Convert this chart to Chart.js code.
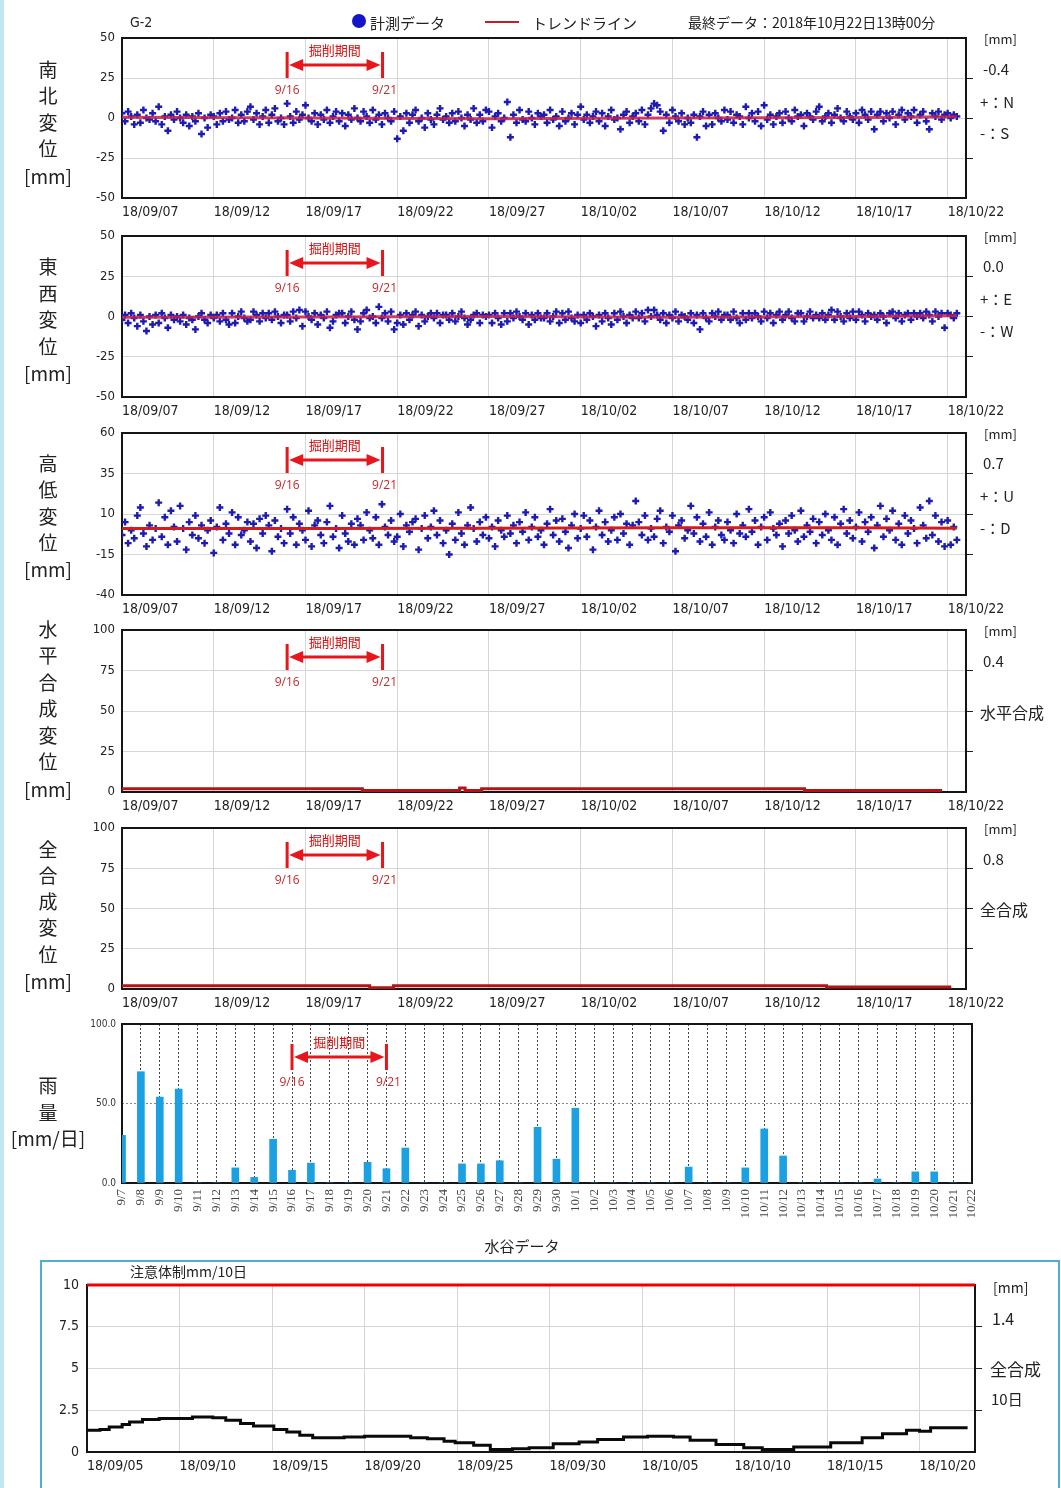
<!DOCTYPE html>
<html>
<head>
<meta charset="utf-8">
<script src="https://cdn.jsdelivr.net/npm/chart.js@4.4.0/dist/chart.umd.min.js"></script>
<style>
  body { margin: 0; width: 1061px; height: 1488px; position: relative; overflow: hidden; background: #fff;
         font-family: "Noto Sans CJK JP", sans-serif; color: #222; }
  .t { position: absolute; white-space: nowrap; line-height: 1; transform: translateY(-50%); }
  .tc { transform: translate(-50%, -50%); }
</style>
</head>
<body>
<div style="position:absolute;left:0;top:0;width:4px;height:1488px;background:#c4e6f1"></div>
<div style="position:absolute;left:40px;top:1260px;width:1016px;height:240px;border:2px solid #4eaed3"></div>

<script>
// ---- data ----
const dispTicks = ['18/09/07', '18/09/12', '18/09/17', '18/09/22', '18/09/27', '18/10/02', '18/10/07', '18/10/12', '18/10/17', '18/10/22'];
const sumTicks = ['18/09/05', '18/09/10', '18/09/15', '18/09/20', '18/09/25', '18/09/30', '18/10/05', '18/10/10', '18/10/15', '18/10/20'];

// 南北変位 [mm], every 4 hours from 9/7 0:00
const nsVals = [
  3, -2, 4, 1, -4, 2,   -3, 5, 0, -1, 3, -2,   7, -4, 1, -8, 2, -1,   4, 0, -3, 2, -5, 1,
  -2, 3, -10, 0, -6, 2,   1, -4, 3, -2, 4, -1,   0, 5, -3, 2, -2, 4,   7, -1, 3, -4, 1, 5,
  -3, 2, 6, -2, 0, -4,   9, 1, -3, 4, -1, 2,   8, 0, -2, 3, -4, 2,   -1, 5, -3, 1, 4, -2,
  3, -5, 2, -1, 6, 0,   -2, 4, 1, -3, 5, -1,   2, -4, 3, 0, -2, 4,   -13, 1, -8, 3, -3, 2,
  5, -2, 0, -6, 3, -1,   -4, 2, 6, -1, 1, -3,   3, -2, 4, 0, -5, 2,   -1, 6, -3, 2, -2, 5,
  4, -6, 1, 3, -2, 0,   10, -12, 2, -3, 5, -1,   -2, 4, 0, -4, 3, 1,   2, -3, 5, -1, 1, -5,
  4, -2, 0, 3, -4, 2,   7, -1, 2, -3, 1, 4,   -2, 3, -5, 1, 5, -1,   0, -7, 2, 4, -3, 1,
  3, -2, 5, -4, 2, 6,   9, 8, 4, -8, 2, -3,   5, 1, -2, 3, -4, 0,   -3, 2, -12, 1, 4, -5,
  2, -4, 3, 0, -2, 5,   -1, 4, -3, 2, 1, -4,   7, 0, 3, -2, 4, -5,   8, -1, 2, -4, 1, 3,
  -3, 4, 0, -2, 5, 1,   2, -5, 3, 1, -1, 4,   7, -2, 1, 3, -3, 2,   6, 0, -2, 4, 1, -1,
  3, -3, 5, 2, -1, 4,   -7, 2, 4, -2, 3, 0,   4, -4, 2, 5, -1, 3,   1, 5, -3, 2, 4, -2,
  -7, 3, 1, 4, -1, 2,   3, 0, 2, 1
];
const nsTrendDays = [0, 10, 20, 30, 40, 45.5];
const nsTrend = [0.5, 0, -0.5, 0, 0.3, 0.8];

// 東西変位 [mm]
const ewVals = [
  -2, 1, -4, 2, -1, -6,   1, -3, -9, 0, -5, 1,   -4, 2, -1, -7, 1, -2,   0, -3, 1, -5, -1, -2,
  -8, 0, 2, -2, -4, 1,   -1, 1, -3, 2, -2, -5,   2, -4, 0, 3, -1, -3,   -2, 3, 1, -3, 2, -1,
  2, -2, 3, 0, -4, 1,   1, -3, 3, -1, 4, -6,   3, 0, -2, 2, -5, 1,   -1, 3, -7, -3, 1, 2,
  2, -4, 0, 3, -2, -8,   -3, 2, 4, -1, 0, -4,   6, -1, 2, -3, 3, -8,   -4, 1, -5, 2, -2, 1,
  3, -6, 1, -3, 0, 2,   -1, 2, -4, 1, 1, -2,   2, -3, 0, 3, -1, -5,   -2, 1, 2, -4, 1, 0,
  1, -4, 2, -1, -5, 2,   -3, 2, -1, 3, 0, -2,   2, -5, 1, -2, 2, -1,   -1, 2, -3, 0, 3, -4,
  2, -2, 3, -1, -3, 1,   -4, 1, -2, 2, 0, -6,   1, -3, 2, -1, -5, 2,   -2, 3, 0, -4, 1, -1,
  3, -1, 2, -3, 4, 0,   4, 1, -2, 2, -4, 1,   -1, 3, -3, 1, 0, -2,   2, -4, 1, -8, 2, -1,
  -3, 2, 0, 3, -2, 1,   1, -2, 3, -1, -4, 2,   -2, 2, -1, 2, 0, -3,   3, -1, 2, -4, 1, 3,
  -2, 1, 3, -1, -3, 2,   2, -3, 0, 3, -1, 1,   -1, 2, -2, 1, 4, -2,   3, 0, -3, 2, -1, 3,
  -2, 3, 1, -3, 2, 0,   1, -2, 2, 0, -4, 2,   3, -1, 2, -3, 1, 2,   -2, 2, 0, 2, -1, 3,
  1, -3, 3, 0, 2, -7,   2, 1, -1, 2
];
const ewTrendDays = [0, 10, 20, 30, 40, 45.5];
const ewTrend = [-0.5, -0.3, 0, -0.5, 0, 0.5];

// 高低変位 [mm]
const udVals = [
  -3, 5, -8, 0, -5, 9,   14, -2, -10, 3, -6, 1,   17, -4, 8, -9, 12, 2,   -7, 15, 1, -12, 5, -3,
  9, -5, 3, -8, 0, 6,   -14, 2, 14, -6, 4, -2,   11, -9, 8, -3, 0, 5,   -7, 4, -11, 7, -2, 9,
  3, -13, 6, -4, 1, -8,   13, -2, 8, -9, 4, 0,   -6, 12, -10, 3, 6, -3,   -8, 5, 15, -4, 1, -11,
  9, -2, -7, 4, -9, 7,   3, -6, 11, 0, -5, 8,   -9, 16, 2, -3, 6, -7,   -4, 10, -10, 3, -1, 5,
  7, -12, 1, 9, -5, 2,   12, -3, 6, -8, 0, -15,   4, -6, 11, -2, -9, 3,   14, 1, -7, 5, -3, 8,
  -5, 2, -10, 6, 0, -4,   9, -2, 3, -8, 5, -1,   11, -6, 2, 8, -4, 0,   -9, 4, 13, -3, 6, -7,
  7, -1, -11, 3, 10, -5,   1, 9, -4, 6, -12, 2,   12, -3, 5, -7, 0, 8,   -6, 10, -2, 4, -9, 3,
  18, 5, -3, 9, -6, 1,   -4, 7, 12, -8, 2, -1,   9, -13, 3, 6, -5, 0,   15, -2, 8, -7, 4, -4,
  11, -9, 2, 6, -3, -6,   5, 0, -8, 10, -2, 3,   -4, 13, -1, 6, -9, 2,   8, -6, 11, 1, -3, 4,
  -10, 6, -2, 9, 0, -7,   12, -4, 3, -1, 7, -8,   5, -3, 10, 0, -6, 8,   -9, 4, 13, -2, 6, -5,
  2, 11, -7, 5, -1, 8,   -11, 3, 15, -4, 7, 0,   12, -6, 4, -9, 9, -2,   6, 1, -8, 14, 3, -5,
  18, -3, 9, -7, 5, -10,   6, -9, 2, -6
];
const udTrendDays = [0, 10, 20, 30, 40, 45.5];
const udTrend = [1, 1, 1.2, 1.5, 1.5, 1.2];

// 水平合成変位 / 全合成変位 [mm] (step changes)
const hzDays = [0, 13.1, 18.4, 18.7, 19.6, 37.2, 44.7];
const hzVals = [2.0, 1.0, 2.5, 1.0, 2.0, 1.0, 1.0];
const allDays = [0, 13.5, 14.8, 38.4, 45.2];
const allVals = [2.0, 0.8, 2.0, 1.2, 1.2];

// 雨量 [mm/日]
const rainDays = ['9/7', '9/8', '9/9', '9/10', '9/11', '9/12', '9/13', '9/14', '9/15', '9/16', '9/17', '9/18',
  '9/19', '9/20', '9/21', '9/22', '9/23', '9/24', '9/25', '9/26', '9/27', '9/28', '9/29', '9/30',
  '10/1', '10/2', '10/3', '10/4', '10/5', '10/6', '10/7', '10/8', '10/9', '10/10', '10/11', '10/12',
  '10/13', '10/14', '10/15', '10/16', '10/17', '10/18', '10/19', '10/20', '10/21', '10/22'];
const rainVals = [30, 70, 54, 59, 0, 0, 9.5, 3.5, 27.5, 8, 12.5, 0, 0, 13, 9, 22, 0, 0, 12, 12, 14, 0, 35, 15,
  47, 0, 0, 0, 0, 0, 10, 0, 0, 9.5, 34, 17, 0, 0, 0, 0, 2.5, 0, 7, 7, 0, 0];

// 全合成 10日 [mm], days from 9/5
const sumDays = [0, 0.7, 1.2, 1.9, 2.3, 3.0, 3.9, 5.0, 5.7, 6.8, 7.5, 8.3, 9.0, 10.1, 10.8, 11.5, 12.2, 13.3, 13.9,
  15.0, 16.7, 17.5, 18.4, 19.3, 19.9, 20.9, 21.8, 23.0, 23.9, 25.2, 26.6, 27.6, 29.0, 30.3, 31.7, 32.6, 34.0,
  35.5, 36.5, 38.2, 40.2, 41.9, 43.0, 44.3, 45.0, 45.6, 47.6];
const sumVals = [1.3, 1.35, 1.5, 1.65, 1.8, 1.95, 2.0, 2.0, 2.1, 2.05, 1.9, 1.7, 1.55, 1.35, 1.2, 1.0, 0.85, 0.85, 0.9,
  0.95, 0.95, 0.85, 0.8, 0.65, 0.55, 0.4, 0.15, 0.2, 0.25, 0.5, 0.6, 0.75, 0.9, 0.95, 0.9, 0.7, 0.45,
  0.25, 0.15, 0.3, 0.55, 0.85, 1.1, 1.3, 1.25, 1.45, 1.45];
const cautionDays = [0, 48];
const cautionVals = [10, 10];

// ---- drawing ----
const CF = '"DejaVu Sans Condensed", "DejaVu Sans", sans-serif';
const GRID = '#d6d6d6';

const frame = {
  id: 'frame',
  beforeDatasetsDraw(chart) {
    const a = chart.chartArea, ctx = chart.ctx;
    ctx.save();
    ctx.strokeStyle = '#151515';
    ctx.lineWidth = 2;
    ctx.strokeRect(a.left, a.top, a.right - a.left, a.bottom - a.top);
    ctx.restore();
  }
};

// 掘削期間 arrow
const kussaku = {
  id: 'kussaku',
  afterDatasetsDraw(chart, args, opt) {
    if (!opt || opt.from === undefined) return;
    const ctx = chart.ctx, x = chart.scales.x;
    const x1 = x.getPixelForValue(opt.from), x2 = x.getPixelForValue(opt.to);
    const top = chart.chartArea.top + opt.dy;
    const ay = top + 27;
    ctx.save();
    ctx.strokeStyle = ctx.fillStyle = '#e6161c';
    ctx.lineWidth = 3;
    ctx.beginPath();
    ctx.moveTo(x1, top + 14); ctx.lineTo(x1, top + 40);
    ctx.moveTo(x2, top + 14); ctx.lineTo(x2, top + 40);
    ctx.moveTo(x1 + 12, ay); ctx.lineTo(x2 - 12, ay);
    ctx.stroke();
    ctx.beginPath();
    ctx.moveTo(x1 + 2, ay); ctx.lineTo(x1 + 16, ay - 6); ctx.lineTo(x1 + 16, ay + 6); ctx.closePath();
    ctx.moveTo(x2 - 2, ay); ctx.lineTo(x2 - 16, ay - 6); ctx.lineTo(x2 - 16, ay + 6); ctx.closePath();
    ctx.fill();
    ctx.textAlign = 'center';
    ctx.textBaseline = 'middle';
    ctx.fillStyle = '#cf1010';
    ctx.font = '13px "Noto Sans CJK JP"';
    ctx.fillText('掘削期間', (x1 + x2) / 2, top + 12);
    ctx.fillStyle = '#c4282c';
    ctx.font = '12px "Open Sans"';
    ctx.fillText('9/16', x1, top + 53);
    ctx.fillText('9/21', x2 + 2, top + 53);
    ctx.restore();
  }
};

function addCanvas(top, height) {
  const c = document.createElement('canvas');
  c.width = 1061;
  c.height = height;
  c.style.cssText = 'position:absolute;left:0;top:' + top + 'px';
  document.body.appendChild(c);
  return c;
}

function toXY(days, vals) {
  return vals.map((v, i) => ({x: days[i], y: v}));
}

function every4h(vals) {
  return vals.map((v, i) => ({x: i / 6, y: v}));
}

function dispChart(top, bottom, yMin, yMax, yStep, datasets, annot) {
  const cv = addCanvas(top - 10, bottom - top + 10 + 26);
  return new Chart(cv, {
    type: 'scatter',
    data: {datasets: datasets},
    options: {
      responsive: false,
      animation: false,
      devicePixelRatio: 1,
      layout: {padding: {top: 10, left: 0, right: 0, bottom: 0}},
      plugins: {legend: {display: false}, tooltip: {enabled: false}, kussaku: annot},
      scales: {
        x: {
          type: 'linear', min: 0, max: 46,
          ticks: {stepSize: 5, includeBounds: false, align: 'start', padding: 6, maxRotation: 0,
                  font: {family: CF, size: 14}, color: '#222',
                  callback: v => dispTicks[Math.round(v / 5)]},
          grid: {color: GRID, drawTicks: false},
          border: {display: false},
          afterFit: s => { s.height = 26; s.paddingLeft = 0; s.paddingRight = 0; }
        },
        y: {
          min: yMin, max: yMax,
          ticks: {stepSize: yStep, padding: 7, font: {family: CF, size: 13}, color: '#222'},
          grid: {color: GRID, drawTicks: false},
          border: {display: false},
          afterFit: s => { s.width = 122; s.paddingTop = 0; s.paddingBottom = 0; }
        },
        y2: {
          position: 'right', min: yMin, max: yMax,
          ticks: {display: false, stepSize: yStep},
          grid: {drawOnChartArea: false, tickLength: 7, color: '#222'},
          border: {display: false},
          afterBuildTicks: s => { s.ticks = s.ticks.filter(t => t.value > yMin && t.value < yMax); },
          afterFit: s => { s.width = 95; s.paddingTop = 0; s.paddingBottom = 0; }
        }
      }
    },
    plugins: [frame, kussaku]
  });
}

function trendSet(days, vals, color) {
  return {data: toXY(days, vals), showLine: true, borderColor: color, borderWidth: 3, pointRadius: 0};
}
function pointSet(vals) {
  return {data: every4h(vals), pointStyle: 'cross', pointRadius: 3.5, borderWidth: 2.4,
          borderColor: '#1c1cb0', backgroundColor: '#1c1cb0'};
}
function stepSet(days, vals) {
  return {data: toXY(days, vals), showLine: true, stepped: true, borderColor: '#b3141a',
          borderWidth: 3, pointRadius: 0};
}

const exc = {from: 9, to: 14.2, dy: 0};

dispChart(38, 198, -50, 50, 25, [trendSet(nsTrendDays, nsTrend, 'rgba(200,30,70,0.85)'), pointSet(nsVals)], exc);
dispChart(236, 397, -50, 50, 25, [trendSet(ewTrendDays, ewTrend, 'rgba(200,30,70,0.85)'), pointSet(ewVals)], exc);
dispChart(433, 595, -40, 60, 25, [trendSet(udTrendDays, udTrend, '#d41c1c'), pointSet(udVals)], exc);
dispChart(630, 792, 0, 100, 25, [stepSet(hzDays, hzVals)], exc);
dispChart(828, 989, 0, 100, 25, [stepSet(allDays, allVals)], exc);

// rain
new Chart(addCanvas(1014, 10 + 159 + 62), {
  type: 'bar',
  data: {labels: rainDays, datasets: [{data: rainVals, backgroundColor: '#1ba0e2', barThickness: 7}]},
  options: {
    responsive: false,
    animation: false,
    devicePixelRatio: 1,
    layout: {padding: {top: 10, left: 0, right: 89, bottom: 0}},
    plugins: {legend: {display: false}, tooltip: {enabled: false}, kussaku: {from: 9, to: 14, dy: 6}},
    scales: {
      x: {
        offset: false,
        ticks: {autoSkip: false, minRotation: 90, maxRotation: 90, padding: 6,
                font: {family: '"Liberation Serif", serif', size: 13}, color: '#444'},
        grid: {color: '#444', drawTicks: false, offset: false},
        border: {display: false, dash: [2, 2]},
        afterFit: s => { s.height = 62; s.paddingLeft = 0; s.paddingRight = 0; }
      },
      y: {
        min: 0, max: 100,
        ticks: {stepSize: 50, padding: 6, font: {family: CF, size: 10}, color: '#333',
                callback: v => v.toFixed(1)},
        grid: {color: '#888', drawTicks: false},
        border: {display: false, dash: [2, 2]},
        afterFit: s => { s.width = 122; s.paddingTop = 0; s.paddingBottom = 0; }
      }
    }
  },
  plugins: [frame, kussaku]
});

// 10日 全合成
new Chart(addCanvas(1275, 10 + 167 + 26), {
  type: 'scatter',
  data: {datasets: [
    {data: toXY(cautionDays, cautionVals), showLine: true, borderColor: '#f00000', borderWidth: 3,
     pointRadius: 0, clip: false},
    {data: toXY(sumDays, sumVals), showLine: true, stepped: true, borderColor: '#0a0a0a', borderWidth: 3,
     pointRadius: 0}
  ]},
  options: {
    responsive: false,
    animation: false,
    devicePixelRatio: 1,
    layout: {padding: {top: 10, left: 0, right: 0, bottom: 0}},
    plugins: {legend: {display: false}, tooltip: {enabled: false}},
    scales: {
      x: {
        type: 'linear', min: 0, max: 48,
        ticks: {stepSize: 5, includeBounds: false, align: 'start', padding: 6, maxRotation: 0,
                font: {family: CF, size: 14}, color: '#222',
                callback: v => sumTicks[Math.round(v / 5)]},
        grid: {color: GRID, drawTicks: false},
        border: {display: false},
        afterFit: s => { s.height = 26; s.paddingLeft = 0; s.paddingRight = 0; }
      },
      y: {
        min: 0, max: 10,
        ticks: {stepSize: 2.5, padding: 8, font: {family: CF, size: 14}, color: '#222'},
        grid: {color: GRID, drawTicks: false},
        border: {display: false},
        afterFit: s => { s.width = 87; s.paddingTop = 0; s.paddingBottom = 0; }
      },
      y2: {
        position: 'right', min: 0, max: 10,
        ticks: {display: false, stepSize: 2.5},
        grid: {drawOnChartArea: false, tickLength: 7, color: '#222'},
        border: {display: false},
        afterBuildTicks: s => { s.ticks = s.ticks.filter(t => t.value > 0 && t.value < 10); },
        afterFit: s => { s.width = 86; s.paddingTop = 0; s.paddingBottom = 0; }
      }
    }
  },
  plugins: [frame]
});

// ---- text ----
function txt(s, x, y, size, opts) {
  const d = document.createElement('div');
  d.className = 't' + (opts && opts.center ? ' tc' : '');
  d.textContent = s;
  d.style.left = x + 'px';
  d.style.top = y + 'px';
  d.style.fontSize = size + 'px';
  if (opts && opts.font) d.style.fontFamily = opts.font;
  if (opts && opts.color) d.style.color = opts.color;
  document.body.appendChild(d);
}

// header
txt('G-2', 130, 22, 14, {font: CF});
const dot = document.createElement('div');
dot.style.cssText = 'position:absolute;left:352px;top:14px;width:14px;height:14px;border-radius:50%;background:#1414c8';
document.body.appendChild(dot);
txt('計測データ', 370, 22, 15);
const rl = document.createElement('div');
rl.style.cssText = 'position:absolute;left:485px;top:21px;width:34px;height:2px;background:#c0202a';
document.body.appendChild(rl);
txt('トレンドライン', 532, 22, 15);
txt('最終データ：2018年10月22日13時00分', 688, 22, 14);

// left titles
const leftCols = [
  [['南', 68], ['北', 94], ['変', 121], ['位', 147], ['[mm]', 175]],
  [['東', 265], ['西', 292], ['変', 318], ['位', 345], ['[mm]', 372]],
  [['高', 462], ['低', 488], ['変', 515], ['位', 541], ['[mm]', 568]],
  [['水', 628], ['平', 654], ['合', 681], ['成', 707], ['変', 734], ['位', 760], ['[mm]', 788]],
  [['全', 848], ['合', 874], ['成', 900], ['変', 926], ['位', 953], ['[mm]', 980]],
  [['雨', 1084], ['量', 1111], ['[mm/日]', 1137]]
];
leftCols.forEach(col => col.forEach(([s, y]) => txt(s, 48, y, 19, {center: true})));

// right side notes
const rightNotes = [
  ['[mm]', 984, 38, 13], ['-0.4', 983, 68, 15], ['+：N', 980, 101, 15], ['-：S', 980, 132, 15],
  ['[mm]', 984, 236, 13], ['0.0', 983, 265, 15], ['+：E', 980, 298, 15], ['-：W', 980, 330, 15],
  ['[mm]', 984, 433, 13], ['0.7', 983, 462, 15], ['+：U', 980, 495, 15], ['-：D', 980, 527, 15],
  ['[mm]', 984, 630, 13], ['0.4', 983, 660, 15], ['水平合成', 980, 712, 16],
  ['[mm]', 984, 828, 13], ['0.8', 983, 858, 15], ['全合成', 980, 909, 16],
  ['[mm]', 993, 1287, 14], ['1.4', 992, 1318, 16], ['全合成', 990, 1368, 17], ['10日', 991, 1398, 15]
];
rightNotes.forEach(([s, x, y, size]) => txt(s, x, y, size));

txt('水谷データ', 522, 1245, 15, {center: true});
txt('注意体制mm/10日', 130, 1271, 14);
</script>
</body>
</html>
